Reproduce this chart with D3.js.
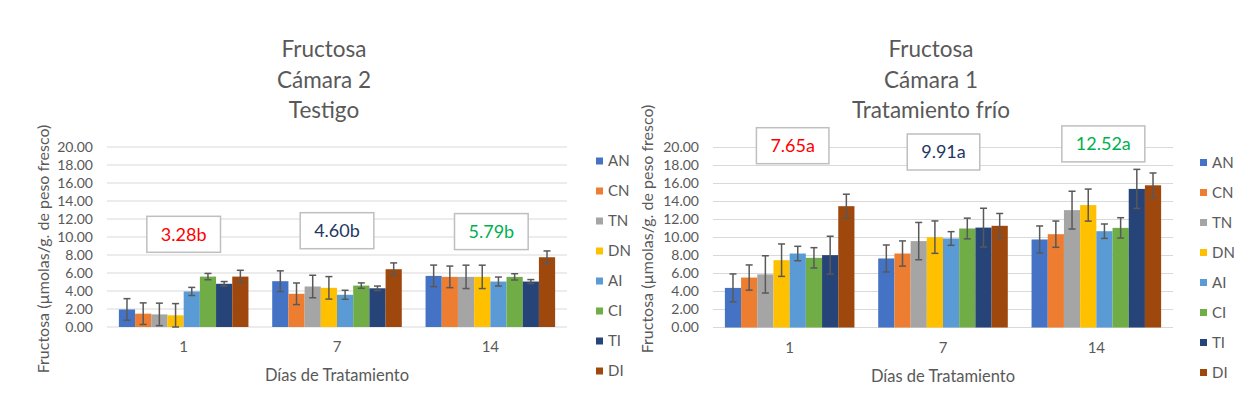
<!DOCTYPE html>
<html>
<head>
<meta charset="utf-8">
<script src="https://cdn.jsdelivr.net/npm/d3@7"></script>
<style>
  body { margin: 0; background: #fff; }
  text { font-family: Lato, "Open Sans", sans-serif; }
</style>
</head>
<body>
<script>
// categories & labels
var series = ["AN", "CN", "TN", "DN", "AI", "CI", "TI", "DI"];
var colors = ["#4472C4", "#ED7D31", "#A5A5A5", "#FFC000", "#5B9BD5", "#70AD47", "#264478", "#9E480E"];
var days = ["1", "7", "14"];
var yTicks = [0, 2, 4, 6, 8, 10, 12, 14, 16, 18, 20];

// Cámara 2 - Testigo (values per series, for days 1, 7, 14)
var testigoMeans = [
  [1.95, 5.09, 5.68],
  [1.48, 3.69, 5.57],
  [1.40, 4.50, 5.57],
  [1.30, 4.35, 5.57],
  [3.95, 3.58, 5.05],
  [5.60, 4.60, 5.57],
  [4.80, 4.30, 5.05],
  [5.60, 6.42, 7.75]
];
var testigoErr = [
  [1.20, 1.15, 1.20],
  [1.20, 1.20, 1.20],
  [1.25, 1.25, 1.30],
  [1.30, 1.25, 1.30],
  [0.45, 0.50, 0.50],
  [0.35, 0.30, 0.35],
  [0.25, 0.25, 0.22],
  [0.70, 0.70, 0.70]
];
var testigoNotes = ["3.28b", "4.60b", "5.79b"];
var testigoNoteColors = ["#FF0000", "#1F3864", "#00B050"];

// Cámara 1 - Tratamiento frío
var frioMeans = [
  [4.40, 7.67, 9.78],
  [5.55, 8.22, 10.37],
  [5.90, 9.60, 13.04],
  [7.48, 10.04, 13.60],
  [8.22, 9.89, 10.70],
  [7.74, 11.00, 11.07],
  [8.04, 11.10, 15.40],
  [13.48, 11.30, 15.80]
];
var frioErr = [
  [1.55, 1.50, 1.50],
  [1.40, 1.40, 1.46],
  [2.07, 2.07, 2.10],
  [1.80, 1.80, 1.78],
  [0.80, 0.76, 0.80],
  [1.13, 1.15, 1.13],
  [2.10, 2.15, 2.17],
  [1.33, 1.37, 1.37]
];
var frioNotes = ["7.65a", "9.91a", "12.52a"];
var frioNoteColors = ["#FF0000", "#1F3864", "#00B050"];

var svg = d3.select("body").append("svg")
  .attr("width", 1250)
  .attr("height", 397);

var textColor = "#595959";

function drawChart(cfg) {
  var g = svg.append("g");

  var x = d3.scaleBand().domain(days).range([cfg.left, cfg.right]).paddingInner(0.155).paddingOuter(0.0775);
  var xs = d3.scaleBand().domain(series).range([0, x.bandwidth()]);
  var y = d3.scaleLinear().domain([0, 20]).range([cfg.bottom, cfg.top]);

  // gridlines
  g.selectAll(".grid").data(yTicks).enter().append("line")
    .attr("x1", cfg.left).attr("x2", cfg.right)
    .attr("y1", d => y(d)).attr("y2", d => y(d))
    .style("stroke", "#d9d9d9").style("stroke-width", 1);

  // y tick labels
  g.selectAll(".ylab").data(yTicks).enter().append("text")
    .attr("x", cfg.left - 14)
    .attr("y", d => y(d))
    .attr("dy", "0.35em")
    .style("text-anchor", "end")
    .style("font-size", "14px")
    .style("fill", textColor)
    .text(d => d.toFixed(2));

  // bars
  var rows = [];
  series.forEach((s, i) => {
    days.forEach((d, j) => {
      rows.push({s: s, day: d, v: cfg.means[i][j], e: cfg.err[i][j], c: colors[i]});
    });
  });

  g.selectAll(".bar").data(rows).enter().append("rect")
    .attr("x", d => x(d.day) + xs(d.s))
    .attr("y", d => y(d.v))
    .attr("width", xs.bandwidth())
    .attr("height", d => y(0) - y(d.v))
    .style("fill", d => d.c);

  // error bars
  var eb = g.selectAll(".err").data(rows).enter().append("g")
    .style("stroke", "#595959").style("stroke-width", 1.5);
  eb.append("line")
    .attr("x1", d => x(d.day) + xs(d.s) + xs.bandwidth() / 2)
    .attr("x2", d => x(d.day) + xs(d.s) + xs.bandwidth() / 2)
    .attr("y1", d => y(d.v + d.e)).attr("y2", d => y(d.v - d.e));
  eb.append("line")
    .attr("x1", d => x(d.day) + xs(d.s) + xs.bandwidth() / 2 - 3.5)
    .attr("x2", d => x(d.day) + xs(d.s) + xs.bandwidth() / 2 + 3.5)
    .attr("y1", d => y(d.v + d.e)).attr("y2", d => y(d.v + d.e));
  eb.append("line")
    .attr("x1", d => x(d.day) + xs(d.s) + xs.bandwidth() / 2 - 3.5)
    .attr("x2", d => x(d.day) + xs(d.s) + xs.bandwidth() / 2 + 3.5)
    .attr("y1", d => y(d.v - d.e)).attr("y2", d => y(d.v - d.e));

  // x tick labels
  g.selectAll(".xlab").data(days).enter().append("text")
    .attr("x", d => x(d) + x.bandwidth() / 2)
    .attr("y", cfg.bottom + 25)
    .style("text-anchor", "middle")
    .style("font-size", "15px")
    .style("fill", textColor)
    .text(d => d);

  // axis titles
  g.append("text")
    .attr("x", (cfg.left + cfg.right) / 2)
    .attr("y", cfg.bottom + 54)
    .style("text-anchor", "middle")
    .style("font-size", "16.5px")
    .style("fill", textColor)
    .text("Días de Tratamiento");

  g.append("text")
    .attr("transform", "translate(" + cfg.ytitleX + "," + cfg.ytitleY + ") rotate(-90)")
    .style("text-anchor", "middle")
    .style("font-size", "16px")
    .style("fill", textColor)
    .text("Fructosa (µmolas/g. de peso fresco)");

  // chart title
  cfg.title.forEach((t, i) => {
    g.append("text")
      .attr("x", cfg.titleX)
      .attr("y", 57 + i * 30.5)
      .style("text-anchor", "middle")
      .style("font-size", "22.5px")
      .style("fill", textColor)
      .text(t);
  });

  // annotation boxes
  cfg.notes.forEach((n, j) => {
    var cx = x(days[j]) + x.bandwidth() / 2 + cfg.noteDx[j];
    var cy = y(cfg.noteY[j]);
    var t = g.append("text")
      .attr("x", cx)
      .attr("y", cy)
      .attr("dy", "0.35em")
      .style("text-anchor", "middle")
      .style("font-size", "18px")
      .style("fill", cfg.noteColors[j])
      .text(n);
    var bb = t.node().getBBox();
    g.insert("rect", function () { return t.node(); })
      .attr("x", cx - bb.width / 2 - 14)
      .attr("y", cy - 18)
      .attr("width", bb.width + 28)
      .attr("height", 36)
      .style("fill", "#fff")
      .style("stroke", "#bfbfbf")
      .style("stroke-width", 1.5);
  });

  // legend
  series.forEach((s, i) => {
    g.append("rect")
      .attr("x", cfg.legendX)
      .attr("y", cfg.legendY + i * 30 - 3.5)
      .attr("width", 7).attr("height", 7)
      .style("fill", colors[i]);
    g.append("text")
      .attr("x", cfg.legendX + 12)
      .attr("y", cfg.legendY + i * 30)
      .attr("dy", "0.35em")
      .style("font-size", "15px")
      .style("fill", textColor)
      .text(s);
  });
}

drawChart({
  left: 107, right: 567, top: 147, bottom: 327,
  means: testigoMeans, err: testigoErr,
  notes: testigoNotes, noteColors: testigoNoteColors,
  noteY: [10.3, 10.7, 10.6], noteDx: [0, 0, 1],
  title: ["Fructosa", "Cámara 2", "Testigo"], titleX: 324,
  ytitleX: 49, ytitleY: 249,
  legendX: 596, legendY: 161
});

drawChart({
  left: 713, right: 1173, top: 147.5, bottom: 327.5,
  means: frioMeans, err: frioErr,
  notes: frioNotes, noteColors: frioNoteColors,
  noteY: [20.2, 19.5, 20.4], noteDx: [3, 0.5, 7],
  title: ["Fructosa", "Cámara 1", "Tratamiento frío"], titleX: 931,
  ytitleX: 653, ytitleY: 229,
  legendX: 1200, legendY: 162.5
});
</script>
</body>
</html>
